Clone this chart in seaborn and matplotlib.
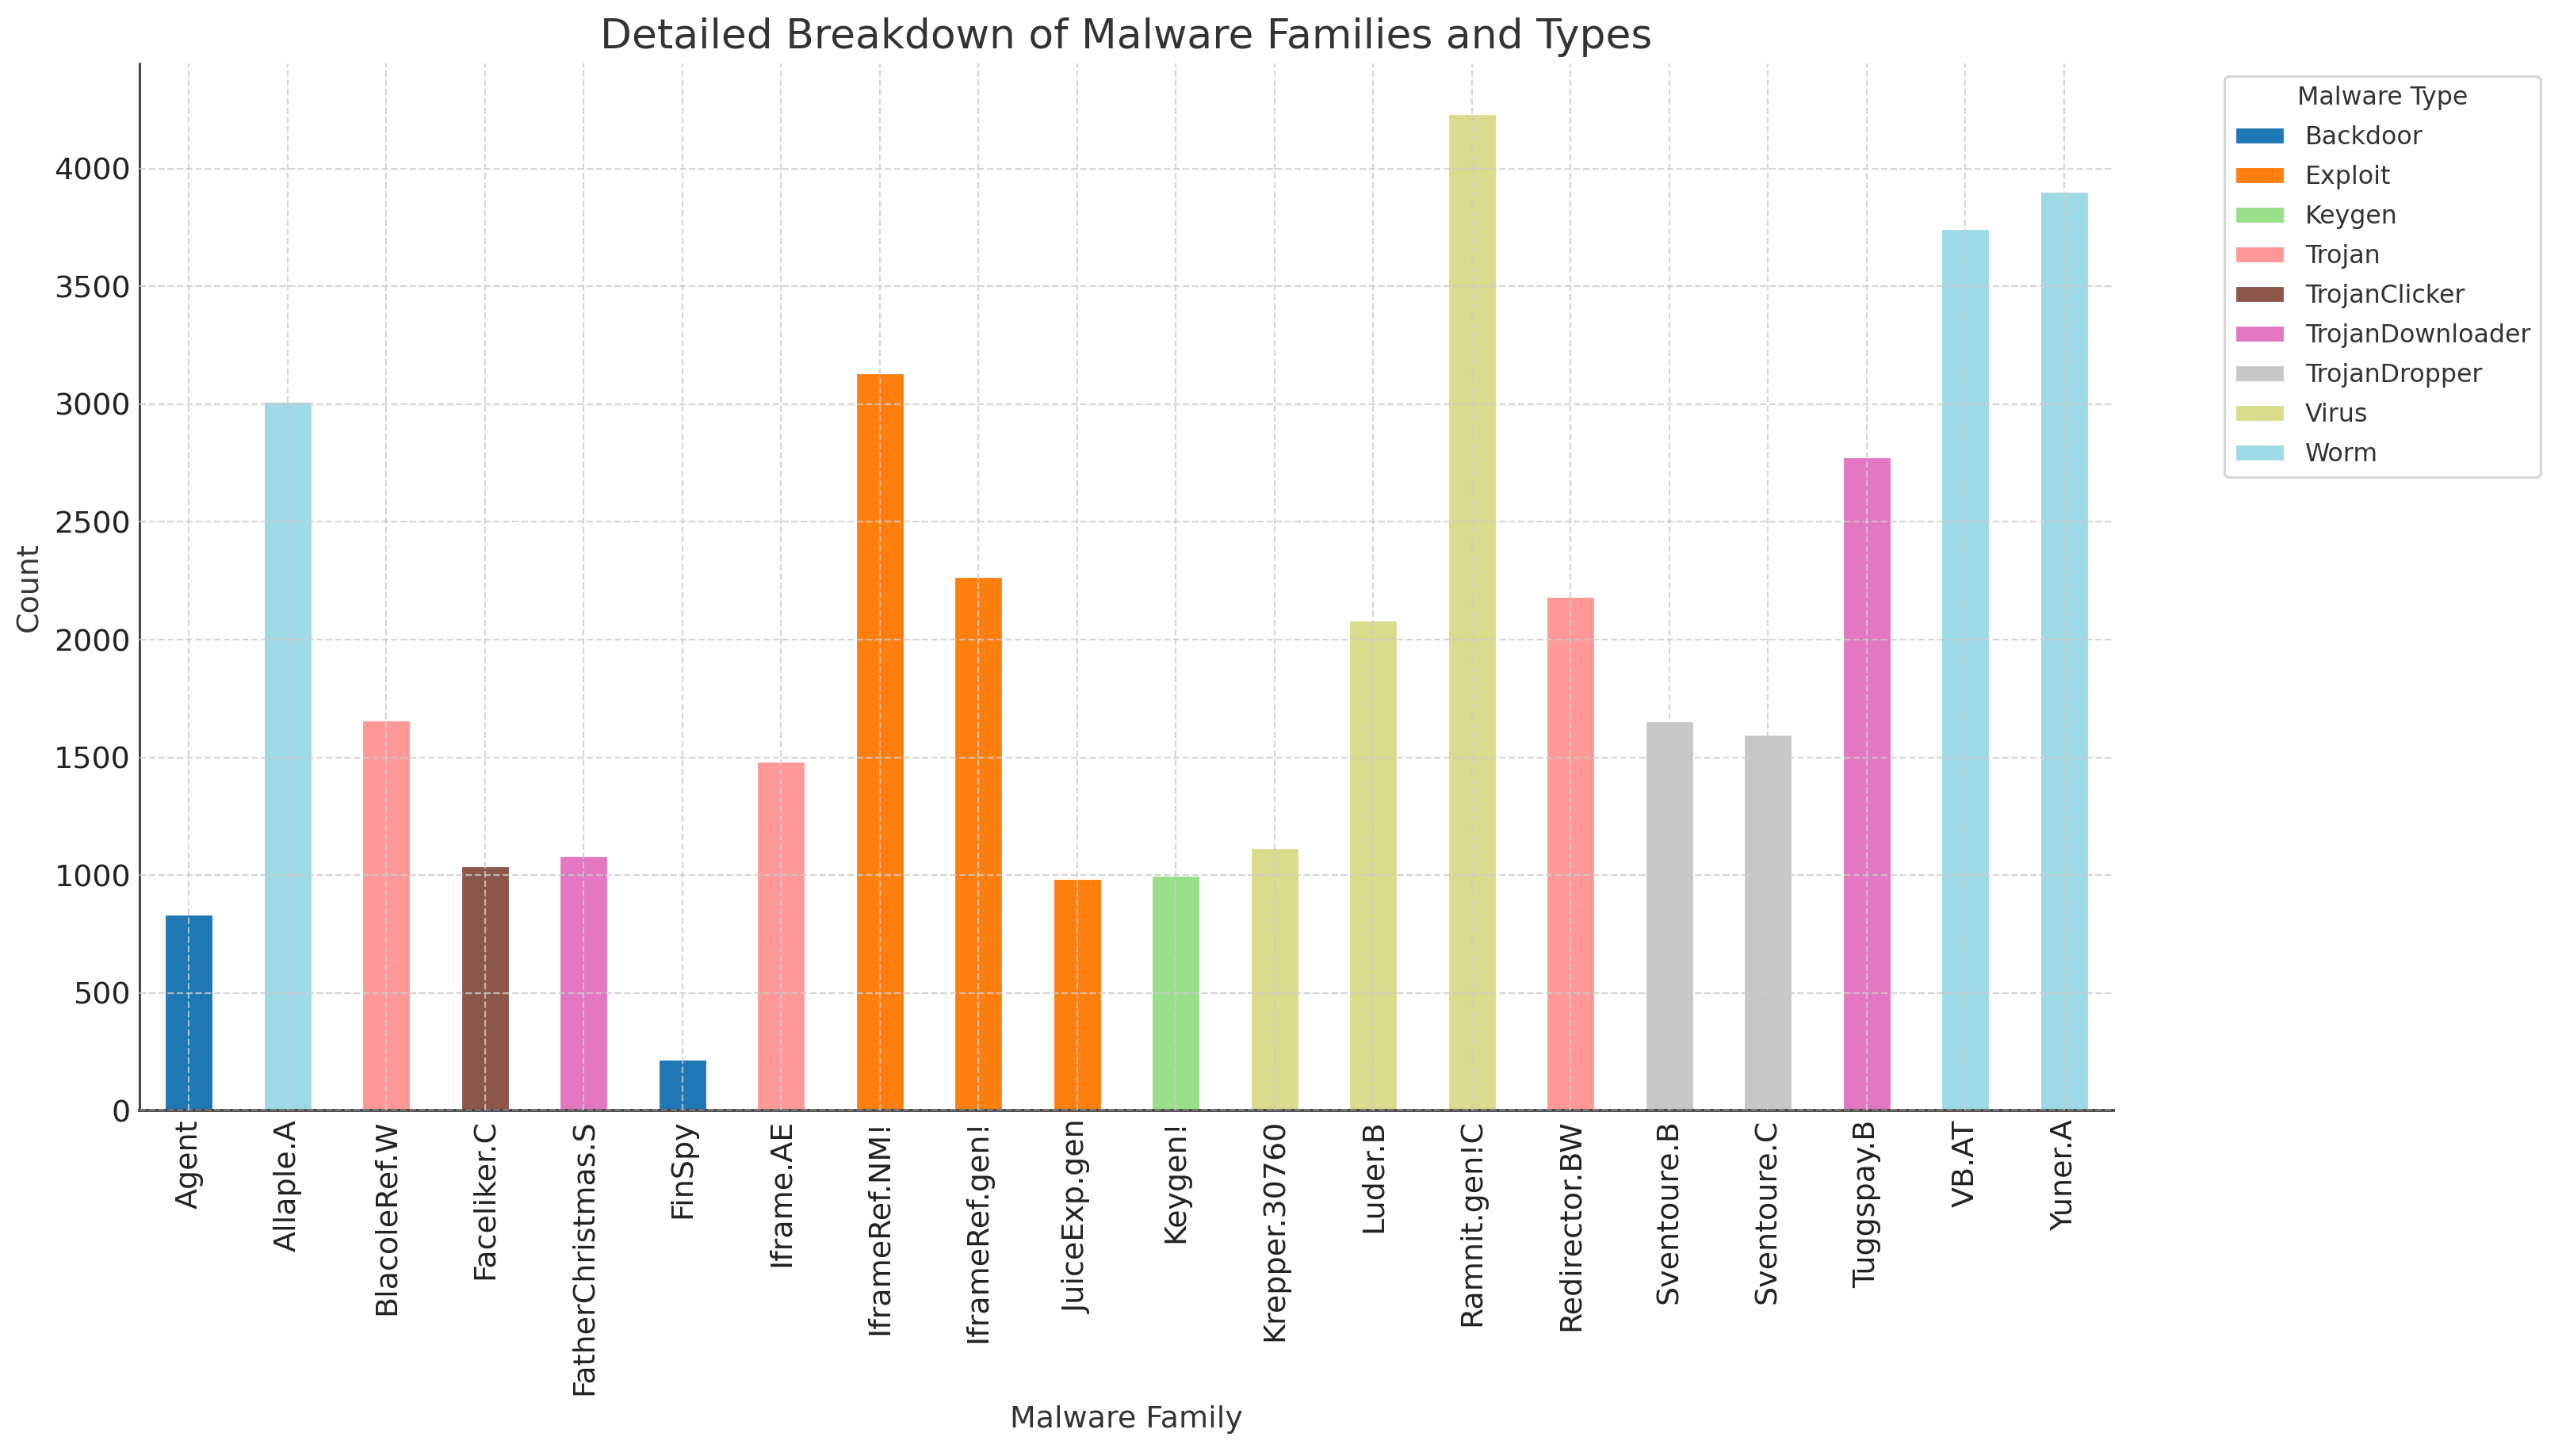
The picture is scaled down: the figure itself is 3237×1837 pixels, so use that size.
import numpy as np
import pandas as pd
import matplotlib.pyplot as plt
import seaborn as sns

# values
families = ['Agent', 'Allaple.A', 'BlacoleRef.W', 'Faceliker.C', 'FatherChristmas.S',
            'FinSpy', 'Iframe.AE', 'IframeRef.NM!', 'IframeRef.gen!', 'JuiceExp.gen',
            'Keygen!', 'Krepper.30760', 'Luder.B', 'Ramnit.gen!C', 'Redirector.BW',
            'Sventoure.B', 'Sventoure.C', 'Tuggspay.B', 'VB.AT', 'Yuner.A']
types = ['Backdoor', 'Worm', 'Trojan', 'TrojanClicker', 'TrojanDownloader',
         'Backdoor', 'Trojan', 'Exploit', 'Exploit', 'Exploit',
         'Keygen', 'Virus', 'Virus', 'Virus', 'Trojan',
         'TrojanDropper', 'TrojanDropper', 'TrojanDownloader', 'Worm', 'Worm']
counts = [835, 3013, 1661, 1040, 1085,
          218, 1485, 3134, 2268, 987,
          1000, 1119, 2085, 4236, 2186,
          1655, 1599, 2778, 3747, 3906]
type_order = ['Backdoor', 'Exploit', 'Keygen', 'Trojan', 'TrojanClicker',
              'TrojanDownloader', 'TrojanDropper', 'Virus', 'Worm']

df = pd.DataFrame({'Malware Family': families, 'Malware Type': types, 'Count': counts})

sns.set_style('white')
plt.rcParams['font.family'] = ['DejaVu Sans']
plt.rcParams['text.color'] = '#333333'
plt.rcParams['axes.labelcolor'] = '#333333'

colors = plt.get_cmap('tab20')(np.linspace(0, 1, len(type_order)))
palette = dict(zip(type_order, colors))

DPI = 228
fig, ax = plt.subplots(figsize=(3237 / DPI, 1837 / DPI), dpi=DPI)
fig.subplots_adjust(left=0.0544, right=0.8236, top=0.9565, bottom=0.2373)

sns.barplot(data=df, x='Malware Family', y='Count', hue='Malware Type',
            hue_order=type_order, order=families, palette=palette,
            dodge=False, width=0.5, saturation=1, ax=ax)

ax.set_xlim(-0.5, len(families) - 0.5)
ax.set_ylim(0, max(counts) * 1.05)
ax.set_title('Detailed Breakdown of Malware Families and Types', fontsize=16.4, color='#333333')
ax.set_xlabel('Malware Family', fontsize=12)
ax.set_ylabel('Count', fontsize=12)
ax.tick_params(axis='both', direction='in', labelsize=12, colors='#222222', length=3.5)
ax.tick_params(axis='x', labelrotation=90)

ax.set_axisbelow(False)
ax.grid(True, linestyle='--', color='#cccccc', linewidth=0.7, alpha=0.8)
sns.despine(ax=ax)
ax.spines['left'].set_color('#222222')
ax.spines['bottom'].set_color('#444444')
ax.spines['bottom'].set_linewidth(1.2)

leg = ax.legend(title='Malware Type', bbox_to_anchor=(1.05, 1), loc='upper left',
                fontsize=10, title_fontsize=10, labelspacing=0.6)

plt.savefig('out.png', dpi=DPI)
